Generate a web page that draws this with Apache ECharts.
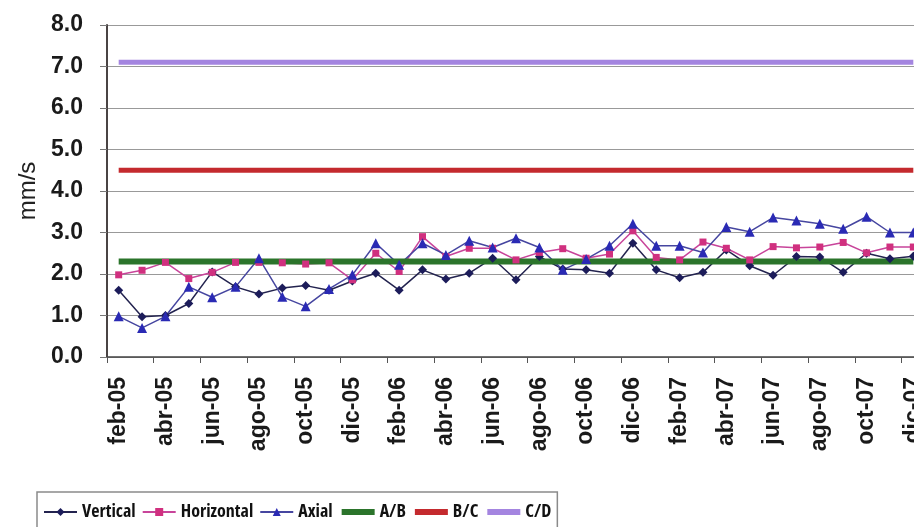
<!DOCTYPE html>
<html>
<head>
<meta charset="utf-8">
<script src="https://cdn.jsdelivr.net/npm/echarts@6/dist/echarts.min.js"></script>
<style>
  html, body { margin: 0; padding: 0; background: #ffffff; }
  #chart { width: 914px; height: 527px; }
</style>
</head>
<body>
<div id="chart"></div>
<script>
// Monthly vibration readings (mm/s), feb-05 .. dic-07
const months = ['feb-05','mar-05','abr-05','may-05','jun-05','jul-05','ago-05','sep-05','oct-05','nov-05','dic-05',
  'ene-06','feb-06','mar-06','abr-06','may-06','jun-06','jul-06','ago-06','sep-06','oct-06','nov-06','dic-06',
  'ene-07','feb-07','mar-07','abr-07','may-07','jun-07','jul-07','ago-07','sep-07','oct-07','nov-07','dic-07'];

const vertical = [1.61, 0.97, 1.00, 1.29, 2.05, 1.69, 1.52, 1.66, 1.72, 1.61, 1.83,
  2.02, 1.61, 2.10, 1.88, 2.02, 2.38, 1.86, 2.42, 2.12, 2.10, 2.02, 2.74,
  2.10, 1.91, 2.04, 2.58, 2.20, 1.97, 2.42, 2.41, 2.04, 2.50, 2.37, 2.43];

const horizontal = [1.98, 2.09, 2.28, 1.89, 2.04, 2.28, 2.28, 2.27, 2.24, 2.27, 1.86,
  2.50, 2.06, 2.90, 2.42, 2.62, 2.62, 2.34, 2.52, 2.61, 2.38, 2.48, 3.04,
  2.40, 2.34, 2.77, 2.62, 2.34, 2.66, 2.63, 2.65, 2.76, 2.51, 2.65, 2.65];

const axial = [0.98, 0.70, 0.98, 1.69, 1.44, 1.69, 2.38, 1.45, 1.22, 1.64, 1.98,
  2.74, 2.22, 2.74, 2.46, 2.80, 2.64, 2.86, 2.64, 2.10, 2.36, 2.68, 3.21,
  2.68, 2.68, 2.52, 3.13, 3.02, 3.36, 3.29, 3.21, 3.09, 3.38, 3.00, 3.00];

// Severity zone boundaries (mm/s)
const limitAB = 2.3;
const limitBC = 4.5;
const limitCD = 7.1;

// Value axis range
const yMin = 0;
const yMax = 8;
const yStep = 1;

const firstMonth = months[0];
const lastMonth = months[months.length - 1];

const boldFont = "'Liberation Sans', Arial, sans-serif";

// Choose the narrowest bold face available for the legend captions
const probe = document.createElement('canvas').getContext('2d');
function widthOf(font, text) { probe.font = font; return probe.measureText(text).width; }
const probeText = 'Vertical Horizontal Axial A/B B/C C/D';
function hasFamily(family) {
  return Math.abs(widthOf("bold 40px " + family + ", monospace", probeText) -
                  widthOf("bold 40px monospace", probeText)) > 0.5;
}
const faceCandidates = [
  { stretch: '', family: "'Liberation Sans Narrow'" },
  { stretch: 'extra-condensed', family: "'Noto Sans'" },
  { stretch: 'condensed', family: "'Noto Sans'" },
  { stretch: 'semi-condensed', family: "'Noto Sans'" },
  { stretch: 'condensed', family: "'DejaVu Sans'" },
  { stretch: '', family: "'DejaVu Sans Condensed'" },
  { stretch: 'condensed', family: "'Open Sans'" },
  { stretch: '', family: "'Liberation Sans'" }
];
let legendFace = faceCandidates[faceCandidates.length - 1];
let legendEm = widthOf("bold 100px 'Liberation Sans'", 'Vertical') / 100;
faceCandidates.forEach(c => {
  if (!hasFamily(c.family)) return;
  const em = widthOf((c.stretch ? c.stretch + ' ' : '') + "bold 100px " + c.family, 'Vertical') / 100;
  if (em < legendEm - 0.01) { legendEm = em; legendFace = c; }
});
const legendSize = Math.max(15, Math.min(20, Math.round(53 / legendEm)));

function measured(name, values, color, lineColor, symbol, size) {
  return {
    name: name,
    type: 'line',
    data: values,
    symbol: symbol,
    symbolSize: size,
    showSymbol: true,
    lineStyle: { color: lineColor, width: 1.5 },
    itemStyle: { color: color, borderWidth: 0 },
    emphasis: { disabled: true }
  };
}

function limit(name, value, color, width) {
  return {
    name: name,
    type: 'line',
    data: [[firstMonth, value], [lastMonth, value]],
    symbol: 'none',
    lineStyle: { color: color, width: width },
    itemStyle: { color: color },
    emphasis: { disabled: true }
  };
}

const limitLegend = name => ({ name: name, lineStyle: { width: 6 }, itemStyle: { opacity: 0 } });

const chart = echarts.init(document.getElementById('chart'), null, { renderer: 'canvas' });

chart.setOption({
  animation: false,
  backgroundColor: '#ffffff',
  grid: { left: 107, top: 25, width: 818, height: 332, outerBoundsMode: 'none', containLabel: false },
  xAxis: {
    type: 'category',
    data: months,
    boundaryGap: true,
    axisLine: { lineStyle: { color: '#444444', width: 1.5 } },
    axisTick: { show: true, interval: 1, length: 6, lineStyle: { color: '#555555', width: 1 } },
    axisLabel: {
      interval: 1, rotate: 90, margin: 20,
      fontSize: 23, fontWeight: 'bold', fontFamily: boldFont, color: '#1a1a1a'
    },
    splitLine: { show: false }
  },
  yAxis: {
    type: 'value',
    min: yMin, max: yMax, interval: yStep,
    name: 'mm/s',
    nameLocation: 'middle',
    nameRotate: 90,
    nameGap: 67,
    nameTextStyle: { fontSize: 24, fontFamily: boldFont, color: '#222222' },
    axisLine: { show: true, lineStyle: { color: '#4a4444', width: 2 } },
    axisTick: { show: true, length: 7, lineStyle: { color: '#777777', width: 1 } },
    axisLabel: {
      margin: 24, fontSize: 23, fontWeight: 'bold', fontFamily: boldFont, color: '#1a1a1a',
      formatter: v => v.toFixed(1)
    },
    splitLine: { lineStyle: { color: '#999999', width: 1 } }
  },
  legend: {
    left: 37, top: 492,
    orient: 'horizontal',
    backgroundColor: '#ffffff',
    borderColor: '#8a8a8a', borderWidth: 1.5, borderRadius: 0,
    padding: [11, 6, 20, 6],
    itemWidth: 33, itemHeight: 10, itemGap: 6,
    selectedMode: false,
    textStyle: {
      fontSize: legendSize, fontWeight: 'bold', fontStyle: legendFace.stretch || 'normal',
      fontFamily: legendFace.family + ", 'Liberation Sans', sans-serif", color: '#111111'
    },
    data: [
      { name: 'Vertical' },
      { name: 'Horizontal' },
      { name: 'Axial' },
      limitLegend('A/B'),
      limitLegend('B/C'),
      limitLegend('C/D')
    ]
  },
  series: [
    measured('Vertical', vertical, '#1c1c5a', '#23234f', 'diamond', 9),
    measured('Horizontal', horizontal, '#d0307f', '#c8449a', 'rect', 7),
    measured('Axial', axial, '#2a2ab4', '#4646a0', 'triangle', 10),
    limit('A/B', limitAB, '#2b742b', 6),
    limit('B/C', limitBC, '#c42a2e', 5),
    limit('C/D', limitCD, '#a485e0', 5)
  ]
});
</script>
</body>
</html>
